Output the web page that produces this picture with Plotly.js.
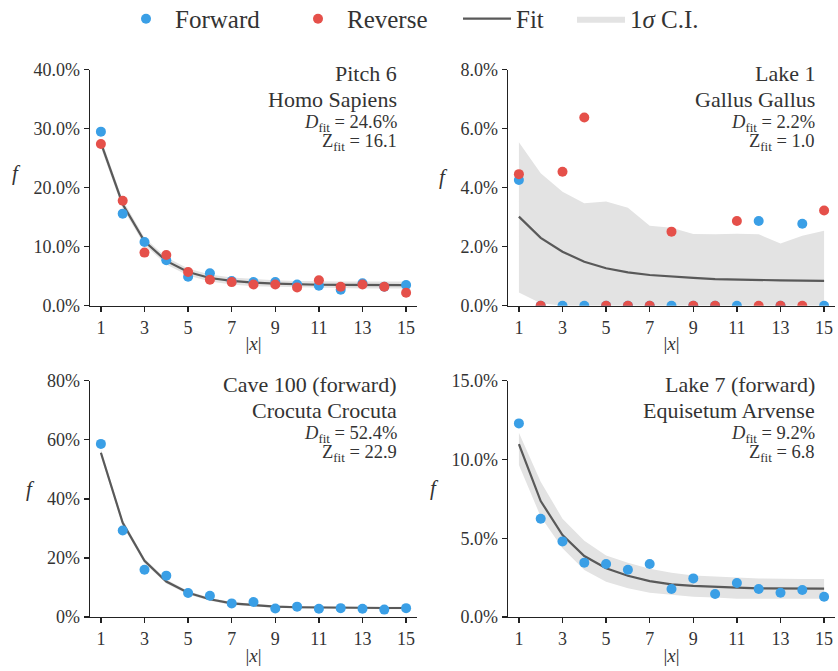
<!DOCTYPE html>
<html>
<head>
<meta charset="utf-8">
<script src="https://cdn.plot.ly/plotly-3.0.1.min.js"></script>
<style>html,body{margin:0;padding:0;background:#fff;}#chart{width:838px;height:671px;}</style>
</head>
<body>
<div id="chart"></div>
<script>
// ---- data (values in %) ----
const lengths = [1,2,3,4,5,6,7,8,9,10,11,12,13,14,15];
const xTickVals = [1,3,5,7,9,11,13,15];

// Panel 1: Pitch 6, Homo Sapiens
const p1Forward = [29.5, 15.6, 10.8, 7.7, 4.9, 5.5, 4.2, 4.0, 4.0, 3.6, 3.4, 2.7, 3.8, 3.2, 3.5];
const p1Reverse = [27.4, 17.8, 9.0, 8.6, 5.7, 4.4, 4.0, 3.6, 3.6, 3.1, 4.3, 3.2, 3.6, 3.2, 2.2];
const p1Fit     = [27.6, 17.2, 10.9, 7.6, 5.7, 4.7, 4.2, 3.9, 3.75, 3.62, 3.55, 3.52, 3.5, 3.5, 3.5];
const p1Hi      = [28.4, 17.9, 11.5, 8.2, 6.3, 5.3, 4.8, 4.5, 4.3, 4.2, 4.1, 4.1, 4.1, 4.1, 4.1];
const p1Lo      = [26.8, 16.5, 10.3, 7.0, 5.1, 4.1, 3.6, 3.3, 3.2, 3.1, 3.0, 3.0, 2.9, 2.9, 2.9];

// Panel 2: Lake 1, Gallus Gallus
const p2Forward = [4.26, 0, 0, 0, 0, 0, 0, 0, 0, 0, 0, 2.87, 0, 2.78, 0];
const p2Reverse = [4.46, 0, 4.54, 6.38, 0, 0, 0, 2.51, 0, 0, 2.87, 0, 0, 0, 3.23];
const p2Fit     = [3.02, 2.30, 1.83, 1.49, 1.27, 1.13, 1.04, 0.98, 0.94, 0.90, 0.88, 0.87, 0.86, 0.85, 0.84];
const p2Hi      = [5.54, 4.49, 3.86, 3.47, 3.53, 3.32, 2.71, 2.64, 2.43, 2.42, 2.44, 2.42, 2.11, 2.37, 2.54];
const p2Lo      = [0.45, 0.08, 0, 0, 0, 0, 0, 0, 0, 0, 0, 0, 0, 0, 0];

// Panel 3: Cave 100 (forward), Crocuta Crocuta
const p3Forward = [58.6, 29.3, 16.0, 14.0, 8.1, 7.2, 4.6, 5.1, 2.9, 3.5, 2.8, 3.0, 2.8, 2.5, 3.0];
const p3Fit     = [55.6, 31.9, 19.0, 12.0, 8.2, 6.0, 4.6, 4.0, 3.5, 3.3, 3.2, 3.1, 3.05, 3.05, 3.05];
const p3Hi      = [56.8, 32.9, 19.8, 12.7, 8.8, 6.5, 5.1, 4.4, 3.9, 3.7, 3.6, 3.5, 3.45, 3.45, 3.45];
const p3Lo      = [54.4, 30.9, 18.2, 11.3, 7.6, 5.5, 4.1, 3.6, 3.1, 2.9, 2.8, 2.7, 2.65, 2.65, 2.65];

// Panel 4: Lake 7 (forward), Equisetum Arvense
const p4Forward = [12.29, 6.24, 4.80, 3.45, 3.36, 3.0, 3.36, 1.78, 2.45, 1.46, 2.16, 1.78, 1.54, 1.71, 1.29];
const p4Fit     = [10.98, 7.36, 5.2, 3.87, 3.09, 2.62, 2.28, 2.07, 1.97, 1.90, 1.86, 1.82, 1.80, 1.80, 1.80];
const p4Hi      = [11.7, 8.59, 6.24, 4.84, 3.91, 3.45, 3.07, 2.81, 2.64, 2.56, 2.5, 2.45, 2.41, 2.41, 2.41];
const p4Lo      = [9.65, 6.37, 4.36, 2.98, 2.24, 1.82, 1.54, 1.40, 1.29, 1.23, 1.16, 1.16, 1.16, 1.16, 1.16];

const panelTitles = [
  ["Pitch 6", "Homo Sapiens"],
  ["Lake 1", "Gallus Gallus"],
  ["Cave 100 (forward)", "Crocuta Crocuta"],
  ["Lake 7 (forward)", "Equisetum Arvense"]
];
const panelD = ["24.6%", "2.2%", "52.4%", "9.2%"];
const panelZ = ["16.1", "1.0", "22.9", "6.8"];
const yRanges = [[0,40],[0,8],[0,80],[0,15]];
const yTickVals = [[0,10,20,30,40],[0,2,4,6,8],[0,20,40,60,80],[0,5,10,15]];
const yTickDecimals = [1, 1, 0, 1];

// ---- styles ----
const FONT = "Liberation Serif, serif";
const BLUE = "#3a9fe6";
const RED = "#e5504a";
const LINE = "#595959";
const BAND = "#e3e3e3";
const AXIS = "#222222";
const TEXT = "#333333";

const panels = [
  {fwd: p1Forward, rev: p1Reverse, fit: p1Fit, hi: p1Hi, lo: p1Lo},
  {fwd: p2Forward, rev: p2Reverse, fit: p2Fit, hi: p2Hi, lo: p2Lo},
  {fwd: p3Forward, rev: null, fit: p3Fit, hi: p3Hi, lo: p3Lo},
  {fwd: p4Forward, rev: null, fit: p4Fit, hi: p4Hi, lo: p4Lo}
];

const W = 838, H = 671;
const xDomains = [[90/W, 417/W],[508/W, 835/W],[90/W, 417/W],[508/W, 835/W]];
const yDomains = [[1-305.7/H, 1-69.7/H],[1-305.7/H, 1-69.7/H],[1-617/H, 1-380.7/H],[1-617/H, 1-380.7/H]];

function legendBox(xpx) {
  return {
    orientation: "h", x: xpx / W, xanchor: "left", y: 1.006, yanchor: "top",
    font: {family: FONT, size: 25, color: TEXT},
    itemwidth: 48, bgcolor: "rgba(0,0,0,0)", borderwidth: 0
  };
}

const traces = [];
const layout = {
  width: W, height: H,
  margin: {l:0, r:0, t:0, b:0, autoexpand: false},
  paper_bgcolor: "#fff", plot_bgcolor: "#fff",
  font: {family: FONT, color: TEXT, size: 18},
  showlegend: true,
  legend: legendBox(117),
  legend2: legendBox(289),
  legend3: legendBox(458),
  legend4: legendBox(572),
  annotations: [],
  shapes: []
};

const fPos = [[16,173],[443.5,177],[30,489],[435,488]];

panels.forEach((p, i) => {
  const n = i + 1;
  const xa = n === 1 ? "x" : "x" + n;
  const ya = n === 1 ? "y" : "y" + n;
  const first = i === 0;
  traces.push({x: lengths, y: p.lo, xaxis: xa, yaxis: ya, type: "scatter", mode: "lines",
    line: {width: 0, color: BAND}, hoverinfo: "skip", showlegend: false});
  traces.push({x: lengths, y: p.hi, xaxis: xa, yaxis: ya, type: "scatter", mode: "lines",
    fill: "tonexty", fillcolor: BAND, line: {width: 0, color: BAND},
    name: "1<i>σ</i> C.I.", legend: "legend4", showlegend: first});
  traces.push({x: lengths, y: p.fit, xaxis: xa, yaxis: ya, type: "scatter", mode: "lines",
    line: {width: 2.2, color: LINE}, name: "Fit", legend: "legend3", showlegend: first});
  traces.push({x: lengths, y: p.fwd, xaxis: xa, yaxis: ya, type: "scatter", mode: "markers",
    marker: {size: 10, color: BLUE}, name: "Forward", legend: "legend", showlegend: first});
  if (p.rev) {
    traces.push({x: lengths, y: p.rev, xaxis: xa, yaxis: ya, type: "scatter", mode: "markers",
      marker: {size: 10, color: RED}, name: "Reverse", legend: "legend2", showlegend: first});
  }
  const xKey = n === 1 ? "xaxis" : "xaxis" + n;
  const yKey = n === 1 ? "yaxis" : "yaxis" + n;
  layout[xKey] = {
    domain: xDomains[i], anchor: ya, range: [0.5, 15.5],
    tickmode: "array", tickvals: xTickVals, ticks: "outside", ticklen: 5, tickwidth: 1.3,
    tickcolor: AXIS, showline: true, linecolor: AXIS, linewidth: 1.3,
    showgrid: false, zeroline: false, fixedrange: true,
    tickfont: {family: FONT, size: 18, color: TEXT},
    title: {text: "|<i>x</i>|", font: {family: FONT, size: 19, color: TEXT}, standoff: 0}
  };
  layout[yKey] = {
    domain: yDomains[i], anchor: xa, range: yRanges[i],
    tickmode: "array", tickvals: yTickVals[i],
    ticktext: yTickVals[i].map(v => v.toFixed(yTickDecimals[i]) + "%"),
    ticks: "outside", ticklen: 5, tickwidth: 1.3, tickcolor: AXIS,
    showline: true, linecolor: AXIS, linewidth: 1.3,
    showgrid: false, zeroline: false, fixedrange: true,
    tickfont: {family: FONT, size: 18, color: TEXT}
  };
  // panel text block
  const lines = [
    {t: panelTitles[i][0], y: 0.985, s: 22},
    {t: panelTitles[i][1], y: 0.875, s: 22},
    {t: "<i>D</i><sub>fit</sub> = " + panelD[i], y: 0.772, s: 18.5},
    {t: "Z<sub>fit</sub> = " + panelZ[i], y: 0.692, s: 18.5}
  ];
  lines.forEach(L => {
    layout.annotations.push({
      xref: xa + " domain", yref: ya + " domain", x: 0.945, y: L.y,
      xanchor: "right", yanchor: "middle", showarrow: false, text: L.t,
      font: {family: FONT, size: L.s, color: TEXT}
    });
  });
  layout.annotations.push({
    xref: "paper", yref: "paper", x: fPos[i][0] / W, y: 1 - fPos[i][1] / H,
    xanchor: "center", yanchor: "middle", showarrow: false, text: "<i>f</i>",
    font: {family: FONT, size: 21, color: TEXT}
  });
});

Plotly.newPlot("chart", traces, layout, {staticPlot: true, displayModeBar: false});
</script>
</body>
</html>
